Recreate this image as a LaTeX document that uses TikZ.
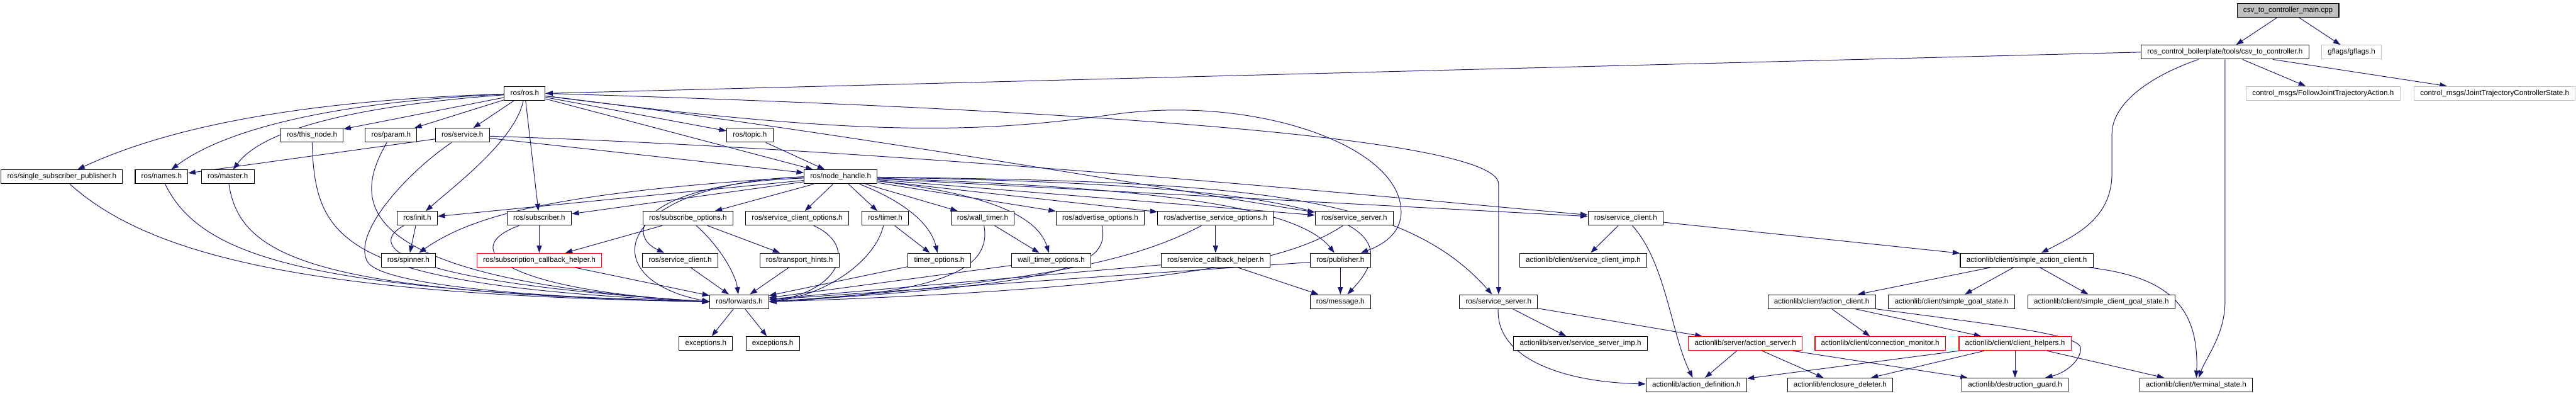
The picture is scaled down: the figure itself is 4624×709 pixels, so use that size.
\documentclass[tikz,border=0pt]{standalone}
\usepackage{fontspec}
\setmainfont{Liberation Sans}
\usetikzlibrary{arrows.meta}
\definecolor{edgeblue}{HTML}{191970}
\definecolor{graybd}{HTML}{BFBFBF}
\definecolor{cppfill}{HTML}{BFBFBF}
\pgfdeclarelayer{edges}
\pgfsetlayers{edges,main}
\begin{document}
\begin{tikzpicture}[x=1pt,y=-1pt,
 box/.style={draw=black, line width=1.2pt, fill=white, inner xsep=11pt, inner ysep=0pt,
   minimum height=25pt, text height=9.5pt, text depth=2.8pt,
   font=\fontsize{13.2pt}{15pt}\selectfont},
 redbox/.style={box, draw=red},
 graybox/.style={box, draw=graybd},
 mainbox/.style={box, fill=cppfill},
 dep/.style={draw=edgeblue, line width=1.1pt, -{Triangle[length=13pt,width=9pt]}}]
\useasboundingbox (0,0) rectangle (4624,709);
% row 0-2
\node[mainbox] (cpp) at (4107,18.5) {csv\_to\_controller\_main.cpp};
\node[box] (ctc) at (3994,93.5) {ros\_control\_boilerplate/tools/csv\_to\_controller.h};
\node[graybox] (gflags) at (4221,93.5) {gflags/gflags.h};
\node[box] (rosh) at (942,167.5) {ros/ros.h};
\node[graybox] (fjta) at (4170,167.5) {control\_msgs/FollowJointTrajectoryAction.h};
\node[graybox] (jtcs) at (4478,167.5) {control\_msgs/JointTrajectoryControllerState.h};
% row 3
\node[box] (thisnode) at (560,242.5) {ros/this\_node.h};
\node[box] (param) at (702,242.5) {ros/param.h};
\node[box] (service) at (830,242.5) {ros/service.h};
\node[box] (topic) at (1346,242.5) {ros/topic.h};
% row 4
\node[box] (ssp) at (111,317) {ros/single\_subscriber\_publisher.h};
\node[box] (names) at (290,317) {ros/names.h};
\node[box] (master) at (409,317) {ros/master.h};
\node[box] (nh) at (1509,317) {ros/node\_handle.h};
% row 5
\node[box] (init) at (749,391.5) {ros/init.h};
\node[box] (subscriber) at (968,391.5) {ros/subscriber.h};
\node[box] (subopts) at (1235,391.5) {ros/subscribe\_options.h};
\node[box] (scopts) at (1431,391.5) {ros/service\_client\_options.h};
\node[box] (timer) at (1589,391.5) {ros/timer.h};
\node[box] (walltimer) at (1764,391.5) {ros/wall\_timer.h};
\node[box] (advopts) at (1975,391.5) {ros/advertise\_options.h};
\node[box] (advsrvopts) at (2182,391.5) {ros/advertise\_service\_options.h};
\node[box] (srvserver) at (2431,391.5) {ros/service\_server.h};
\node[box] (srvclient) at (2918,391.5) {ros/service\_client.h};
% row 6
\node[box] (spinner) at (733,466.5) {ros/spinner.h};
\node[redbox] (subcb) at (968,466.5) {ros/subscription\_callback\_helper.h};
\node[box] (srvclient2) at (1221,466.5) {ros/service\_client.h};
\node[box] (transport) at (1435,466.5) {ros/transport\_hints.h};
\node[box] (timeropts) at (1686,466.5) {timer\_options.h};
\node[box] (walltimeropts) at (1887,466.5) {wall\_timer\_options.h};
\node[box] (srvcb) at (2182,466.5) {ros/service\_callback\_helper.h};
\node[box] (publisher) at (2406,466.5) {ros/publisher.h};
\node[box] (scimp) at (2842,466.5) {actionlib/client/service\_client\_imp.h};
\node[box] (sac) at (3638,466.5) {actionlib/client/simple\_action\_client.h};
% row 7
\node[box] (forwards) at (1327,541) {ros/forwards.h};
\node[box] (message) at (2406,541) {ros/message.h};
\node[box] (srvserver2) at (2690,541) {ros/service\_server.h};
\node[box] (actionclient) at (3270,541) {actionlib/client/action\_client.h};
\node[box] (sgs) at (3503,541) {actionlib/client/simple\_goal\_state.h};
\node[box] (scgs) at (3772,541) {actionlib/client/simple\_client\_goal\_state.h};
% row 8
\node[box] (exc1) at (1267,616) {exceptions.h};
\node[box] (exc2) at (1387,616) {exceptions.h};
\node[box] (ssimp) at (2837,616) {actionlib/server/service\_server\_imp.h};
\node[redbox] (actionserver) at (3133,616) {actionlib/server/action\_server.h};
\node[redbox] (connmon) at (3375,616) {actionlib/client/connection\_monitor.h};
\node[redbox] (clienthelpers) at (3617,616) {actionlib/client/client\_helpers.h};
% row 9
\node[box] (actiondef) at (3045,690.5) {actionlib/action\_definition.h};
\node[box] (enclosure) at (3303,690.5) {actionlib/enclosure\_deleter.h};
\node[box] (destruction) at (3617,690.5) {actionlib/destruction\_guard.h};
\node[box] (terminal) at (3942,690.5) {actionlib/client/terminal\_state.h};

\begin{pgfonlayer}{edges}
% top
\draw[dep] (cpp) -- (ctc);
\draw[dep] (cpp) -- (gflags);
\draw[dep] (ctc.west) -- (rosh.east);
\draw[dep] (ctc) -- (fjta);
\draw[dep] (ctc) -- (jtcs);
\draw[dep] ([xshift=-48pt]ctc.south) .. controls (3850,140) and (3791,190) .. (3791,240) -- (3791,310) .. controls (3791,390) and (3730,420) .. (sac);
\draw[dep] (ctc.south) -- (3994,540) .. controls (3994,600) and (3960,640) .. (terminal);
% ros.h
\draw[dep] (rosh) .. controls (600,178) and (330,215) .. (ssp);
\draw[dep] (rosh) .. controls (650,180) and (420,220) .. (names);
\draw[dep] (rosh) .. controls (700,185) and (480,220) .. (master);
\draw[dep] (rosh) -- (thisnode);
\draw[dep] (rosh) -- (param);
\draw[dep] (rosh) -- (service);
\draw[dep] (rosh) .. controls (925,250) and (820,330) .. (init);
\draw[dep] (rosh) -- (subscriber);
\draw[dep] (rosh) -- (topic);
\draw[dep] (rosh) -- (nh);
\draw[dep] (rosh) .. controls (1500,235) and (2100,340) .. (srvserver);
\draw[dep] (rosh.east) .. controls (1900,195) and (2690,245) .. (2690,330) -- (srvserver2);
\draw[dep] (rosh) .. controls (1550,245) and (1750,240) .. (2000,205) .. controls (2250,170) and (2515,260) .. (2515,380) .. controls (2515,420) and (2480,440) .. (publisher);
% service.h
\draw[dep] (service) -- (names);
\draw[dep] (service) -- (nh);
\draw[dep] (service) .. controls (1600,268) and (2400,345) .. (srvclient);
\draw[dep] (service) .. controls (730,310) and (630,420) .. (660,470) .. controls (690,515) and (1000,535) .. (forwards.west);
% left fan into forwards
\draw[dep] (ssp) .. controls (280,470) and (600,530) .. (forwards.west);
\draw[dep] (names) .. controls (360,460) and (550,522) .. (forwards.west);
\draw[dep] (master) .. controls (430,460) and (560,525) .. (forwards.west);
\draw[dep] (thisnode) .. controls (565,440) and (620,512) .. (forwards.west);
\draw[dep] (param) .. controls (640,350) and (600,500) .. (forwards.west);
\draw[dep] (init) .. controls (660,440) and (700,505) .. (forwards.west);
\draw[dep] (subscriber) .. controls (820,445) and (900,520) .. (forwards.west);
\draw[dep] (init) -- (spinner);
% topic
\draw[dep] (topic) -- (nh);
% node_handle
\draw[dep] (nh.west) .. controls (1000,345) and (850,385) .. (spinner);
\draw[dep] (nh) -- (init);
\draw[dep] (nh) -- (subscriber);
\draw[dep] (nh) -- (subopts);
\draw[dep] (nh) -- (scopts);
\draw[dep] (nh) .. controls (1150,330) and (1120,420) .. (srvclient2);
\draw[dep] (nh.west) .. controls (1100,330) and (1060,500) .. (forwards.west);
\draw[dep] (nh) -- (timer);
\draw[dep] (nh) .. controls (1620,360) and (1670,400) .. (timeropts);
\draw[dep] (nh) -- (walltimer);
\draw[dep] (nh) .. controls (1750,345) and (1860,380) .. (walltimeropts);
\draw[dep] (nh) -- (advopts);
\draw[dep] (nh) -- (advsrvopts);
\draw[dep] (nh) -- (srvserver);
\draw[dep] (nh) -- (srvclient);
\draw[dep] (nh) .. controls (2000,335) and (2320,360) .. (publisher);
\draw[dep] (nh) .. controls (2300,330) and (2560,380) .. (message);
\draw[dep] (nh) .. controls (2250,325) and (2520,350) .. (srvserver2);
% row 5 sources
\draw[dep] (subscriber) -- (subcb);
\draw[dep] (subcb) -- (forwards);
\draw[dep] (subopts) -- (subcb);
\draw[dep] (subopts) -- (transport);
\draw[dep] (subopts) .. controls (1290,440) and (1320,490) .. (forwards);
\draw[dep] (srvclient2) -- (forwards);
\draw[dep] (transport) -- (forwards);
\draw[dep] (scopts) .. controls (1540,440) and (1510,520) .. (forwards.east);
\draw[dep] (timer) -- (timeropts);
\draw[dep] (timer) .. controls (1570,470) and (1480,530) .. (forwards.east);
\draw[dep] (timeropts) -- (forwards);
\draw[dep] (walltimer) -- (walltimeropts);
\draw[dep] (walltimer) .. controls (1780,480) and (1700,525) .. (forwards.east);
\draw[dep] (walltimeropts) -- (forwards);
\draw[dep] (advopts) .. controls (1995,480) and (1900,510) .. (forwards.east);
\draw[dep] (advsrvopts) -- (srvcb);
\draw[dep] (advsrvopts) .. controls (2050,460) and (1900,505) .. (forwards.east);
\draw[dep] (srvcb) -- (forwards);
\draw[dep] (srvcb) -- (message);
\draw[dep] (srvserver) .. controls (2340,450) and (2200,515) .. (forwards.east);
\draw[dep] (publisher) -- (forwards);
\draw[dep] (publisher) -- (message);
% service_client
\draw[dep] (srvclient) -- (scimp);
\draw[dep] (srvclient) .. controls (2990,470) and (3000,600) .. (actiondef);
\draw[dep] (srvclient) -- (sac);
% service_server (2)
\draw[dep] (srvserver2) -- (ssimp);
\draw[dep] (srvserver2) -- (actionserver);
\draw[dep] (srvserver2) .. controls (2685,640) and (2800,685) .. (actiondef);
\draw[dep] (actionserver) -- (actiondef);
\draw[dep] (actionserver) -- (enclosure);
\draw[dep] (actionserver) -- (destruction);
% simple action client
\draw[dep] (sac) -- (actionclient);
\draw[dep] (sac) -- (sgs);
\draw[dep] (sac) -- (scgs);
\draw[dep] (sac) .. controls (3880,495) and (3948,540) .. (terminal);
\draw[dep] (actionclient) -- (connmon);
\draw[dep] (actionclient) -- (clienthelpers);
\draw[dep] (actionclient) .. controls (3600,585) and (3735,600) .. (3735,625) .. controls (3735,645) and (3710,668) .. (destruction);
\draw[dep] (clienthelpers) -- (actiondef);
\draw[dep] (clienthelpers) -- (enclosure);
\draw[dep] (clienthelpers) -- (destruction);
\draw[dep] (clienthelpers) -- (terminal);
% forwards
\draw[dep] (forwards) -- (exc1);
\draw[dep] (forwards) -- (exc2);
\end{pgfonlayer}
\end{tikzpicture}
\end{document}
